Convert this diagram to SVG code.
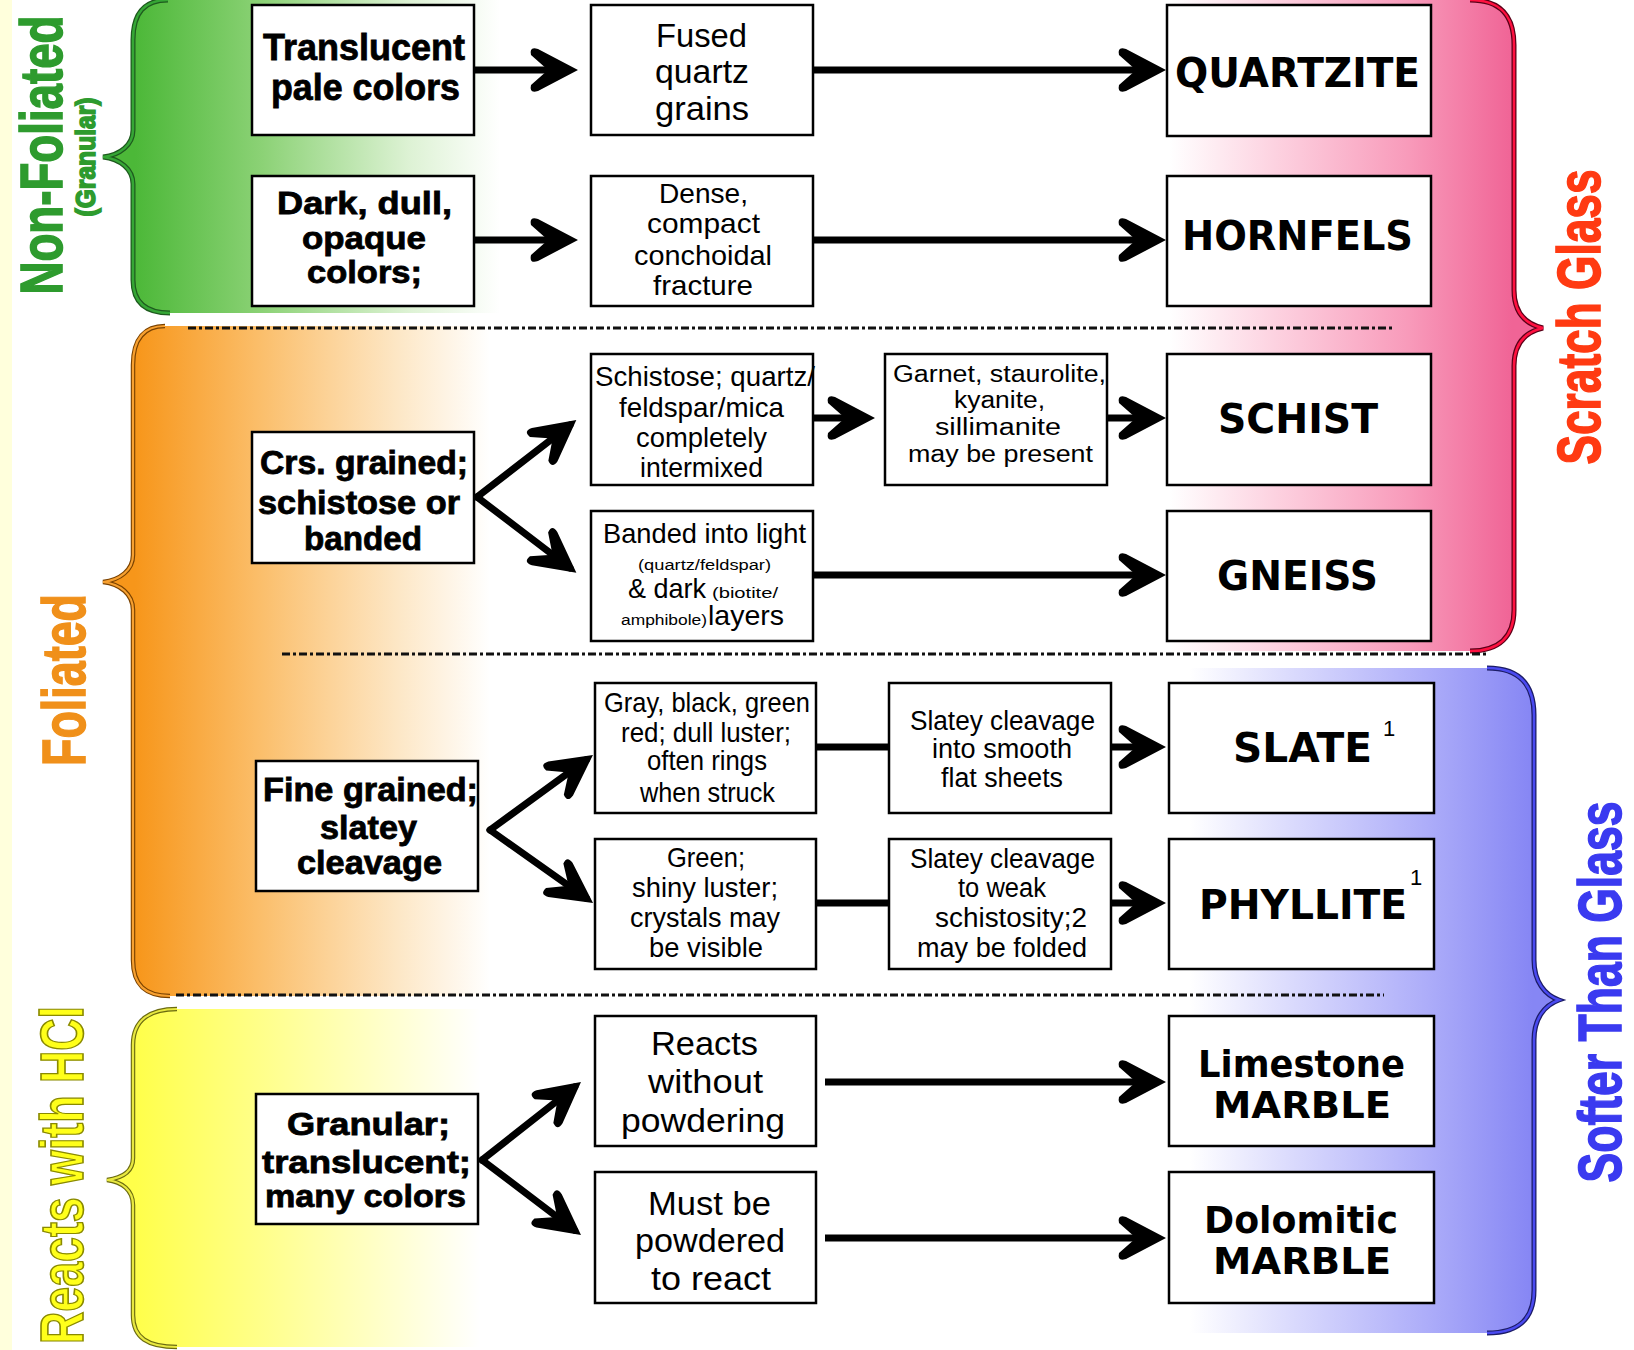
<svg xmlns="http://www.w3.org/2000/svg" width="1634" height="1350" viewBox="0 0 1634 1350">
<style>
.box{fill:#fff;stroke:#000;stroke-width:2.5}
.b{font-family:"Liberation Sans",Arial,sans-serif;font-weight:bold;fill:#000;stroke:#000;stroke-width:0.8;text-anchor:middle}
.r{font-family:"Liberation Sans",Arial,sans-serif;font-weight:normal;fill:#000;text-anchor:middle}
.k{font-family:"DejaVu Sans","Liberation Sans",sans-serif;font-weight:bold;fill:#000;text-anchor:middle}
.side{font-family:"Liberation Sans",Arial,sans-serif;font-weight:bold;text-anchor:middle;stroke-width:1.6}
.arr{stroke:#000;stroke-width:7;fill:none;stroke-linecap:round}
.ln{stroke:#000;stroke-width:7;fill:none}
.dash{stroke:#111;stroke-width:3;stroke-dasharray:8 3 3 3;fill:none}
</style>
<defs>
<marker id="ah" viewBox="-52 -26 56 52" refX="-8" refY="0" markerWidth="56" markerHeight="52" markerUnits="userSpaceOnUse" orient="auto">
<path d="M0,0 L-40,-21 Q-49,-24 -47,-15 L-30,0 L-47,15 Q-49,24 -40,21 Z" fill="#000"/>
</marker>
<linearGradient id="gG" gradientUnits="userSpaceOnUse" x1="135" y1="0" x2="500" y2="0">
<stop offset="0" stop-color="#4CB838"/><stop offset="0.35" stop-color="#8CD276"/><stop offset="0.75" stop-color="#DDF2D4"/><stop offset="1" stop-color="#FFFFFF"/>
</linearGradient>
<linearGradient id="gO" gradientUnits="userSpaceOnUse" x1="135" y1="0" x2="490" y2="0">
<stop offset="0" stop-color="#F7961A"/><stop offset="0.35" stop-color="#FBBE6A"/><stop offset="0.75" stop-color="#FDE8C8"/><stop offset="1" stop-color="#FFFFFF"/>
</linearGradient>
<linearGradient id="gY" gradientUnits="userSpaceOnUse" x1="135" y1="0" x2="480" y2="0">
<stop offset="0" stop-color="#FFFF4A"/><stop offset="0.4" stop-color="#FFFF90"/><stop offset="0.8" stop-color="#FFFFDA"/><stop offset="1" stop-color="#FFFFFF"/>
</linearGradient>
<linearGradient id="gP" gradientUnits="userSpaceOnUse" x1="1170" y1="0" x2="1512" y2="0">
<stop offset="0" stop-color="#FFFFFF"/><stop offset="0.3" stop-color="#FDD3E1"/><stop offset="0.7" stop-color="#F89ABA"/><stop offset="1" stop-color="#F06496"/>
</linearGradient>
<linearGradient id="gB" gradientUnits="userSpaceOnUse" x1="1190" y1="0" x2="1532" y2="0">
<stop offset="0" stop-color="#FFFFFF"/><stop offset="0.3" stop-color="#DADAFD"/><stop offset="0.7" stop-color="#ACACF9"/><stop offset="1" stop-color="#8686F4"/>
</linearGradient>
</defs>
<rect x="0" y="0" width="1634" height="1350" fill="#fff"/>
<rect x="0" y="0" width="12" height="1350" fill="#FFFFDC"/>

<g id="bands">
<path d="M620,0 L168,0 C145,0 133,12 133,40 L133,130 C133,145 120,155 103,157 C120,159 133,169 133,184 L133,280 C133,302 145,313 170,313 L620,313 Z" fill="url(#gG)"/>
<path d="M620,326 L165,326 C145,326 133,338 133,365 L133,555 C133,570 120,580 103,582 C120,584 133,594 133,610 L133,960 C133,985 145,996 170,996 L620,996 Z" fill="url(#gO)"/>
<path d="M620,1009 L177,1009 C150,1009 133,1020 133,1045 L133,1158 C133,1172 122,1178 107,1180 C122,1182 133,1190 133,1205 L133,1315 C133,1338 148,1347 177,1347 L620,1347 Z" fill="url(#gY)"/>
<path d="M1100,0 L1470,0 C1500,0 1514,15 1514,45 L1514,290 C1514,312 1525,324 1543,328 C1525,332 1514,344 1514,366 L1514,610 C1514,636 1500,651 1470,651 L1100,651 Z" fill="url(#gP)"/>
<path d="M1100,668 L1487,668 C1520,668 1534,685 1534,715 L1534,960 C1534,982 1545,995 1559,1000 C1545,1005 1534,1018 1534,1040 L1534,1290 C1534,1318 1520,1333 1487,1333 L1100,1333 Z" fill="url(#gB)"/>
</g>
<g id="braces" fill="none">
<path d="M168,0 C145,0 133,12 133,40 L133,130 C133,145 120,155 103,157 C120,159 133,169 133,184 L133,280 C133,302 145,313 170,313" stroke="#1E5A1E" stroke-width="5"/>
<path d="M168,0 C145,0 133,12 133,40 L133,130 C133,145 120,155 103,157 C120,159 133,169 133,184 L133,280 C133,302 145,313 170,313" stroke="#35A635" stroke-width="2.5"/>
<path d="M165,326 C145,326 133,338 133,365 L133,555 C133,570 120,580 103,582 C120,584 133,594 133,610 L133,960 C133,985 145,996 170,996" stroke="#7A4200" stroke-width="4.5"/>
<path d="M165,326 C145,326 133,338 133,365 L133,555 C133,570 120,580 103,582 C120,584 133,594 133,610 L133,960 C133,985 145,996 170,996" stroke="#F7A030" stroke-width="2.2"/>
<path d="M177,1009 C150,1009 133,1020 133,1045 L133,1158 C133,1172 122,1178 107,1180 C122,1182 133,1190 133,1205 L133,1315 C133,1338 148,1347 177,1347" stroke="#6B6B10" stroke-width="4.5"/>
<path d="M177,1009 C150,1009 133,1020 133,1045 L133,1158 C133,1172 122,1178 107,1180 C122,1182 133,1190 133,1205 L133,1315 C133,1338 148,1347 177,1347" stroke="#E8E840" stroke-width="2.2"/>
<path d="M1470,0 C1500,0 1514,15 1514,45 L1514,290 C1514,312 1525,324 1543,328 C1525,332 1514,344 1514,366 L1514,610 C1514,636 1500,651 1470,651" stroke="#5A0018" stroke-width="5"/>
<path d="M1470,0 C1500,0 1514,15 1514,45 L1514,290 C1514,312 1525,324 1543,328 C1525,332 1514,344 1514,366 L1514,610 C1514,636 1500,651 1470,651" stroke="#FF1040" stroke-width="2.5"/>
<path d="M1487,668 C1520,668 1534,685 1534,715 L1534,960 C1534,982 1545,995 1559,1000 C1545,1005 1534,1018 1534,1040 L1534,1290 C1534,1318 1520,1333 1487,1333" stroke="#1C1C66" stroke-width="5"/>
<path d="M1487,668 C1520,668 1534,685 1534,715 L1534,960 C1534,982 1545,995 1559,1000 C1545,1005 1534,1018 1534,1040 L1534,1290 C1534,1318 1520,1333 1487,1333" stroke="#4A4AF0" stroke-width="2.5"/>
</g>
<g id="separators">
<line class="dash" x1="188" y1="328" x2="1392" y2="328"/>
<line class="dash" x1="282" y1="654" x2="1486" y2="654"/>
<line class="dash" x1="176" y1="995" x2="1384" y2="995"/>
</g>

<g id="connectors">
<line class="ln" x1="474" y1="70" x2="570" y2="70" marker-end="url(#ah)"/>
<line class="ln" x1="813" y1="70" x2="1158" y2="70" marker-end="url(#ah)"/>
<line class="ln" x1="474" y1="240" x2="570" y2="240" marker-end="url(#ah)"/>
<line class="ln" x1="813" y1="240" x2="1158" y2="240" marker-end="url(#ah)"/>
<line class="arr" x1="477" y1="497" x2="570" y2="425" marker-end="url(#ah)"/>
<line class="arr" x1="477" y1="497" x2="570" y2="568" marker-end="url(#ah)"/>
<line class="ln" x1="813" y1="418" x2="867" y2="418" marker-end="url(#ah)"/>
<line class="ln" x1="1107" y1="418" x2="1158" y2="418" marker-end="url(#ah)"/>
<line class="ln" x1="813" y1="575" x2="1158" y2="575" marker-end="url(#ah)"/>
<line class="arr" x1="490" y1="830" x2="586.5" y2="759.6" marker-end="url(#ah)"/>
<line class="arr" x1="490" y1="830" x2="586.5" y2="898.4" marker-end="url(#ah)"/>
<line class="ln" x1="816" y1="747" x2="889" y2="747"/>
<line class="ln" x1="1111" y1="747" x2="1158" y2="747" marker-end="url(#ah)"/>
<line class="ln" x1="816" y1="903" x2="889" y2="903"/>
<line class="ln" x1="1111" y1="903" x2="1158" y2="903" marker-end="url(#ah)"/>
<line class="arr" x1="482" y1="1160" x2="574.7" y2="1087" marker-end="url(#ah)"/>
<line class="arr" x1="482" y1="1160" x2="574.6" y2="1230.2" marker-end="url(#ah)"/>
<line class="ln" x1="825" y1="1082" x2="1158" y2="1082" marker-end="url(#ah)"/>
<line class="ln" x1="825" y1="1238" x2="1158" y2="1238" marker-end="url(#ah)"/>
</g>

<g id="n-translucent">
<rect class="box" x="252" y="5" width="222" height="130"/>
<text class="b" font-size="37" x="364" y="60" textLength="202" lengthAdjust="spacingAndGlyphs">Translucent</text>
<text class="b" font-size="37" x="365.5" y="100" textLength="189" lengthAdjust="spacingAndGlyphs">pale colors</text>
</g>
<g id="n-dark">
<rect class="box" x="252" y="176" width="222" height="130"/>
<text class="b" font-size="32" x="364.5" y="214" textLength="175" lengthAdjust="spacingAndGlyphs">Dark, dull,</text>
<text class="b" font-size="32" x="364" y="249" textLength="124" lengthAdjust="spacingAndGlyphs">opaque</text>
<text class="b" font-size="32" x="364.5" y="283" textLength="115" lengthAdjust="spacingAndGlyphs">colors;</text>
</g>
<g id="n-fused">
<rect class="box" x="591" y="5" width="222" height="130"/>
<text class="r" font-size="33" x="701.5" y="47" textLength="91" lengthAdjust="spacingAndGlyphs">Fused</text>
<text class="r" font-size="33" x="702" y="83" textLength="94" lengthAdjust="spacingAndGlyphs">quartz</text>
<text class="r" font-size="33" x="702" y="120" textLength="94" lengthAdjust="spacingAndGlyphs">grains</text>
</g>
<g id="n-dense">
<rect class="box" x="591" y="176" width="222" height="130"/>
<text class="r" font-size="28" x="703.5" y="203" textLength="89" lengthAdjust="spacingAndGlyphs">Dense,</text>
<text class="r" font-size="28" x="703.5" y="233" textLength="113" lengthAdjust="spacingAndGlyphs">compact</text>
<text class="r" font-size="28" x="703" y="265" textLength="138" lengthAdjust="spacingAndGlyphs">conchoidal</text>
<text class="r" font-size="28" x="703" y="295" textLength="100" lengthAdjust="spacingAndGlyphs">fracture</text>
</g>
<g id="n-quartzite">
<rect class="box" x="1167" y="5" width="264" height="131"/>
<text class="k" font-size="40" x="1297.5" y="87" textLength="245" lengthAdjust="spacingAndGlyphs">QUARTZITE</text>
</g>
<g id="n-hornfels">
<rect class="box" x="1167" y="176" width="264" height="130"/>
<text class="k" font-size="40" x="1297.5" y="250" textLength="231" lengthAdjust="spacingAndGlyphs">HORNFELS</text>
</g>

<g id="n-crs">
<rect class="box" x="252" y="432" width="222" height="131"/>
<text class="b" font-size="33" x="364" y="474" textLength="208" lengthAdjust="spacingAndGlyphs">Crs. grained;</text>
<text class="b" font-size="33" x="359" y="514" textLength="202" lengthAdjust="spacingAndGlyphs">schistose or</text>
<text class="b" font-size="33" x="363" y="550" textLength="118" lengthAdjust="spacingAndGlyphs">banded</text>
</g>
<g id="n-schistose">
<rect class="box" x="591" y="354" width="222" height="131"/>
<text class="r" font-size="28" x="705" y="386" textLength="220" lengthAdjust="spacingAndGlyphs">Schistose; quartz/</text>
<text class="r" font-size="28" x="701.5" y="417" textLength="165" lengthAdjust="spacingAndGlyphs">feldspar/mica</text>
<text class="r" font-size="28" x="701.5" y="447" textLength="131" lengthAdjust="spacingAndGlyphs">completely</text>
<text class="r" font-size="28" x="701.5" y="477" textLength="123" lengthAdjust="spacingAndGlyphs">intermixed</text>
</g>
<g id="n-garnet">
<rect class="box" x="885" y="354" width="222" height="131"/>
<text class="r" font-size="23" x="999.5" y="382" textLength="213" lengthAdjust="spacingAndGlyphs">Garnet, staurolite,</text>
<text class="r" font-size="23" x="999.5" y="408" textLength="91" lengthAdjust="spacingAndGlyphs">kyanite,</text>
<text class="r" font-size="23" x="998" y="435" textLength="126" lengthAdjust="spacingAndGlyphs">sillimanite</text>
<text class="r" font-size="23" x="1000.5" y="462" textLength="185" lengthAdjust="spacingAndGlyphs">may be present</text>
</g>
<g id="n-schist">
<rect class="box" x="1167" y="354" width="264" height="131"/>
<text class="k" font-size="40" x="1298" y="433" textLength="160" lengthAdjust="spacingAndGlyphs">SCHIST</text>
</g>
<g id="n-banded">
<rect class="box" x="591" y="511" width="222" height="130"/>
<text class="r" font-size="28" x="704.5" y="543" textLength="203" lengthAdjust="spacingAndGlyphs">Banded into light</text>
<text class="r" font-size="14" x="704.5" y="570" textLength="133" lengthAdjust="spacingAndGlyphs">(quartz/feldspar)</text>
<text class="r" font-size="28" x="667" y="598" textLength="78" lengthAdjust="spacingAndGlyphs">&amp; dark</text>
<text class="r" font-size="14" x="745" y="598" textLength="66" lengthAdjust="spacingAndGlyphs">(biotite/</text>
<text class="r" font-size="14" x="664" y="625" textLength="86" lengthAdjust="spacingAndGlyphs">amphibole)</text>
<text class="r" font-size="28" x="746" y="625" textLength="76" lengthAdjust="spacingAndGlyphs">layers</text>
</g>
<g id="n-gneiss">
<rect class="box" x="1167" y="511" width="264" height="130"/>
<text class="k" font-size="40" x="1297.5" y="590" textLength="161" lengthAdjust="spacingAndGlyphs">GNEISS</text>
</g>

<g id="n-fine">
<rect class="box" x="256" y="761" width="222" height="130"/>
<text class="b" font-size="33" x="370.5" y="801" textLength="215" lengthAdjust="spacingAndGlyphs">Fine grained;</text>
<text class="b" font-size="33" x="368.5" y="839" textLength="97" lengthAdjust="spacingAndGlyphs">slatey</text>
<text class="b" font-size="33" x="369.5" y="874" textLength="145" lengthAdjust="spacingAndGlyphs">cleavage</text>
</g>
<g id="n-gray">
<rect class="box" x="595" y="683" width="221" height="130"/>
<text class="r" font-size="28" x="707" y="712" textLength="206" lengthAdjust="spacingAndGlyphs">Gray, black, green</text>
<text class="r" font-size="28" x="706" y="742" textLength="170" lengthAdjust="spacingAndGlyphs">red; dull luster;</text>
<text class="r" font-size="28" x="707" y="770" textLength="120" lengthAdjust="spacingAndGlyphs">often rings</text>
<text class="r" font-size="28" x="707.5" y="802" textLength="135" lengthAdjust="spacingAndGlyphs">when struck</text>
</g>
<g id="n-slatey1">
<rect class="box" x="889" y="683" width="222" height="130"/>
<text class="r" font-size="27" x="1002.5" y="730" textLength="185" lengthAdjust="spacingAndGlyphs">Slatey cleavage</text>
<text class="r" font-size="27" x="1002" y="758" textLength="140" lengthAdjust="spacingAndGlyphs">into smooth</text>
<text class="r" font-size="27" x="1002" y="787" textLength="122" lengthAdjust="spacingAndGlyphs">flat sheets</text>
</g>
<g id="n-slate">
<rect class="box" x="1169" y="683" width="265" height="130"/>
<text class="k" font-size="40" x="1302.5" y="762" textLength="139" lengthAdjust="spacingAndGlyphs">SLATE</text>
<text class="r" font-size="22" x="1389" y="736">1</text>
</g>
<g id="n-green">
<rect class="box" x="595" y="839" width="221" height="130"/>
<text class="r" font-size="28" x="706" y="867" textLength="78" lengthAdjust="spacingAndGlyphs">Green;</text>
<text class="r" font-size="28" x="705" y="897" textLength="146" lengthAdjust="spacingAndGlyphs">shiny luster;</text>
<text class="r" font-size="28" x="705" y="927" textLength="150" lengthAdjust="spacingAndGlyphs">crystals may</text>
<text class="r" font-size="28" x="706" y="957" textLength="114" lengthAdjust="spacingAndGlyphs">be visible</text>
</g>
<g id="n-slatey2">
<rect class="box" x="889" y="839" width="222" height="130"/>
<text class="r" font-size="27" x="1002.5" y="868" textLength="185" lengthAdjust="spacingAndGlyphs">Slatey cleavage</text>
<text class="r" font-size="27" x="1002" y="897" textLength="88" lengthAdjust="spacingAndGlyphs">to weak</text>
<text class="r" font-size="27" x="1011" y="927" textLength="152" lengthAdjust="spacingAndGlyphs">schistosity;2</text>
<text class="r" font-size="27" x="1002" y="957" textLength="170" lengthAdjust="spacingAndGlyphs">may be folded</text>
</g>
<g id="n-phyllite">
<rect class="box" x="1169" y="839" width="265" height="130"/>
<text class="k" font-size="40" x="1303" y="919" textLength="208" lengthAdjust="spacingAndGlyphs">PHYLLITE</text>
<text class="r" font-size="22" x="1416" y="885">1</text>
</g>

<g id="n-granular">
<rect class="box" x="256" y="1094" width="222" height="130"/>
<text class="b" font-size="32" x="368.5" y="1135" textLength="163" lengthAdjust="spacingAndGlyphs">Granular;</text>
<text class="b" font-size="32" x="366.5" y="1173" textLength="209" lengthAdjust="spacingAndGlyphs">translucent;</text>
<text class="b" font-size="32" x="365.5" y="1207" textLength="201" lengthAdjust="spacingAndGlyphs">many colors</text>
</g>
<g id="n-reacts">
<rect class="box" x="595" y="1016" width="221" height="130"/>
<text class="r" font-size="34" x="704.5" y="1055" textLength="107" lengthAdjust="spacingAndGlyphs">Reacts</text>
<text class="r" font-size="34" x="705.5" y="1093" textLength="115" lengthAdjust="spacingAndGlyphs">without</text>
<text class="r" font-size="34" x="703" y="1132" textLength="164" lengthAdjust="spacingAndGlyphs">powdering</text>
</g>
<g id="n-must">
<rect class="box" x="595" y="1172" width="221" height="131"/>
<text class="r" font-size="34" x="709.5" y="1215" textLength="123" lengthAdjust="spacingAndGlyphs">Must be</text>
<text class="r" font-size="34" x="710" y="1252" textLength="150" lengthAdjust="spacingAndGlyphs">powdered</text>
<text class="r" font-size="34" x="711" y="1290" textLength="120" lengthAdjust="spacingAndGlyphs">to react</text>
</g>
<g id="n-limestone">
<rect class="box" x="1169" y="1016" width="265" height="130"/>
<text class="k" font-size="38" x="1301.5" y="1077" textLength="207" lengthAdjust="spacingAndGlyphs">Limestone</text>
<text class="k" font-size="38" x="1302" y="1118" textLength="178" lengthAdjust="spacingAndGlyphs">MARBLE</text>
</g>
<g id="n-dolomitic">
<rect class="box" x="1169" y="1172" width="265" height="131"/>
<text class="k" font-size="38" x="1301" y="1233" textLength="194" lengthAdjust="spacingAndGlyphs">Dolomitic</text>
<text class="k" font-size="38" x="1302" y="1274" textLength="178" lengthAdjust="spacingAndGlyphs">MARBLE</text>
</g>

<g id="labels">
<text class="side" font-size="60" fill="#2E9B2E" stroke="#2E9B2E" transform="translate(62,155) rotate(-90)" textLength="279" lengthAdjust="spacingAndGlyphs">Non-Foliated</text>
<text class="side" font-size="27" fill="#2E9B2E" stroke="#2E9B2E" stroke-width="0.8" transform="translate(95,157) rotate(-90)" textLength="119" lengthAdjust="spacingAndGlyphs">(Granular)</text>
<text class="side" font-size="62" fill="#F0901A" stroke="#F0901A" transform="translate(85,680) rotate(-90)" textLength="172" lengthAdjust="spacingAndGlyphs">Foliated</text>
<text class="side" font-size="62" fill="#FFFF1A" stroke="#8A8A00" stroke-width="1.2" transform="translate(83,1175) rotate(-90)" textLength="338" lengthAdjust="spacingAndGlyphs">Reacts with HCl</text>
<text class="side" font-size="62" fill="#FF3A12" stroke="#FF3A12" transform="translate(1600,317) rotate(-90)" textLength="295" lengthAdjust="spacingAndGlyphs">Scratch Glass</text>
<text class="side" font-size="62" fill="#3A3AF0" stroke="#3A3AF0" transform="translate(1621,992) rotate(-90)" textLength="381" lengthAdjust="spacingAndGlyphs">Softer Than Glass</text>
</g>
</svg>
